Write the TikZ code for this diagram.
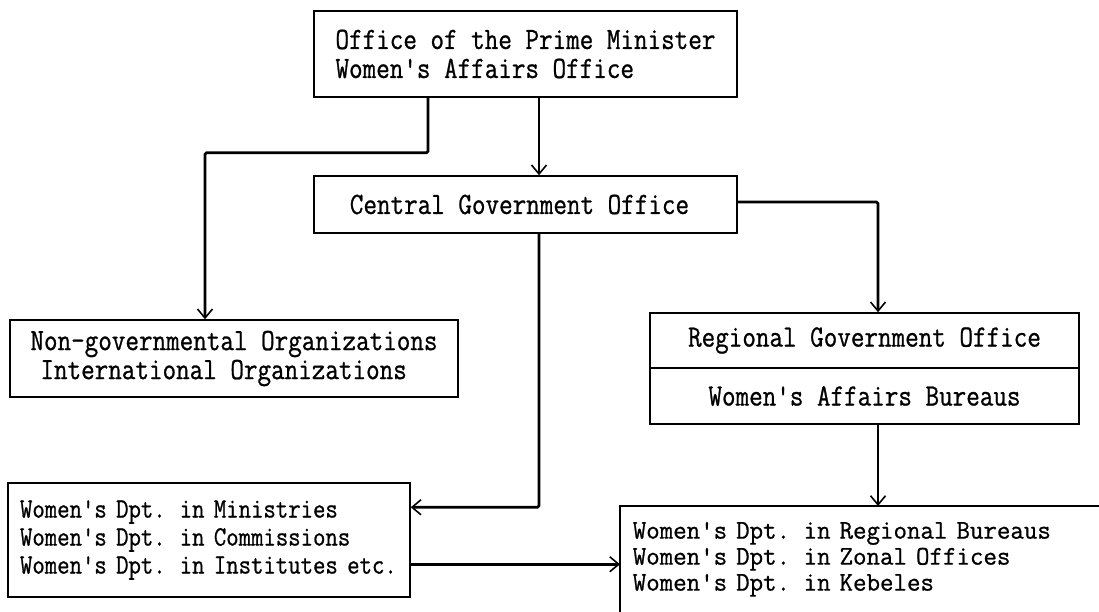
\documentclass[tikz,border=0pt]{standalone}
\usepackage{fontspec}
\newfontfamily\orgfont{Latin Modern Mono}[FakeStretch=0.85,FakeBold=0.8]
\newfontfamily\deptfont{Latin Modern Mono}[FakeStretch=0.86,FakeBold=0.8]
\newfontfamily\regdeptfont{Latin Modern Mono}[FakeStretch=0.97,FakeBold=0.8]
\usetikzlibrary{arrows.meta}
\begin{document}
\begin{tikzpicture}[x=1pt,y=1pt,
  box/.style={draw, line width=1.5pt, inner sep=0pt,
    font=\orgfont\fontsize{31}{29}\selectfont},
  link/.style={line width=2.6pt, rounded corners=1.5pt},
  conn/.style={link, -{Straight Barb[length=9pt,width=15pt,line width=1.6pt]}}]
\useasboundingbox (0,0) rectangle (1099,-611);

% offices
\node[box, minimum width=423pt, minimum height=86pt, align=left]
  (pm) at (525.5,-54) {Office of the Prime Minister\\Women's Affairs Office};
\node[box, minimum width=423pt, minimum height=57pt]
  (cgo) at (525.5,-204.5) {Central Government Office\hspace*{12pt}};
\node[box, minimum width=448pt, minimum height=77pt, align=left]
  (ngo) at (234,-358.5) {Non-governmental Organizations\\\hspace*{10pt}International Organizations};
\node[box, minimum width=429pt, minimum height=55pt]
  (rgo) at (864.5,-340.5) {Regional Government Office};
\node[box, minimum width=429pt, minimum height=56pt]
  (wab) at (864.5,-396) {Women's Affairs Bureaus};
\node[box, font=\deptfont\fontsize{28}{28}\selectfont, text width=378pt, inner xsep=12pt,
  minimum height=114pt, align=left]
  (bl) at (209,-540) {Women's Dpt. in Ministries\\Women's Dpt. in Commissions\\Women's Dpt. in Institutes etc.};
% open box running off the lower right corner
\node[box, draw=none, font=\regdeptfont\fontsize{27}{26}\selectfont, text width=455pt,
  inner xsep=12pt, minimum height=105pt, align=left, anchor=north west]
  (br) at (620,-506) {Women's Dpt. in Regional Bureaus\\Women's Dpt. in Zonal Offices\\Women's Dpt. in Kebeles};
\draw[line width=1.5pt] (br.north east) -- (br.north west) -- (br.south west);

% connection points on box edges
\coordinate (blin) at ([yshift=-25pt]bl.north east);
\coordinate (blout) at ([yshift=-82pt]bl.north east);

% connectors
\draw[conn] ([xshift=-97.5pt]pm.south) -- ++(0,-55) -| ([xshift=-29pt]ngo.north);
\draw[conn] ([xshift=13.5pt]pm.south) -- ([xshift=13.5pt]cgo.north);
\draw[conn] ([yshift=2.5pt]cgo.east) -| ([xshift=13.5pt]rgo.north);
\draw[conn] ([xshift=13.5pt]cgo.south) |- (blin);
\draw[conn] ([xshift=13.5pt]wab.south) -- ([xshift=13.5pt]wab.south |- br.north);
\draw[conn] (blout) -- (blout -| br.west);
\end{tikzpicture}
\end{document}
